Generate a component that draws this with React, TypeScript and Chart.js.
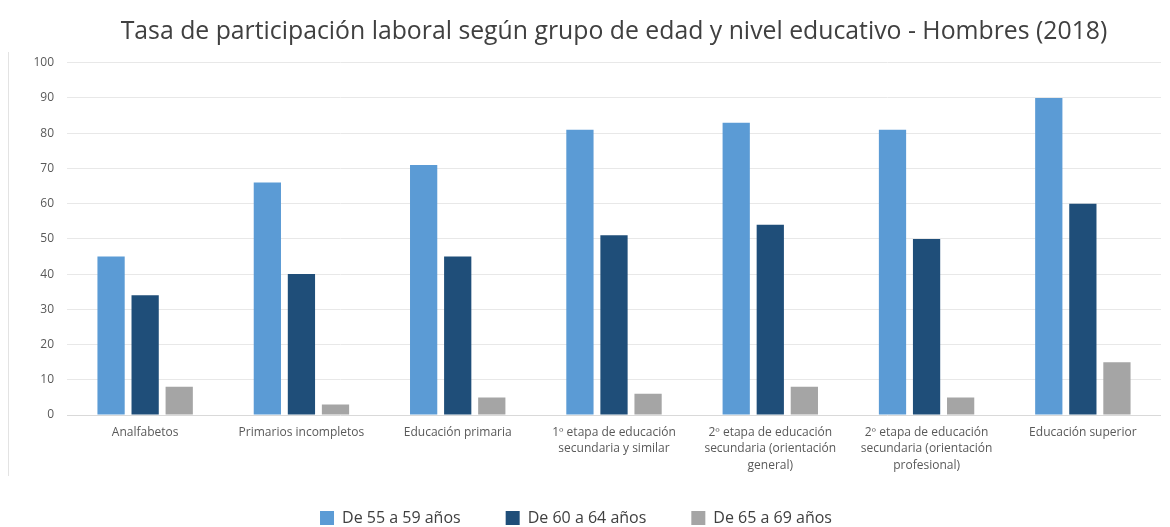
import React, { useEffect, useRef } from "react";
import { Chart, registerables } from "chart.js";

Chart.register(...registerables);

const titleText =
  "Tasa de participación laboral según grupo de edad y nivel educativo - Hombres (2018)";

const categories: (string | string[])[] = [
  "Analfabetos",
  "Primarios incompletos",
  "Educación primaria",
  ["1º etapa de educación", "secundaria y similar"],
  ["2º etapa de educación", "secundaria (orientación", "general)"],
  ["2º etapa de educación", "secundaria (orientación", "profesional)"],
  "Educación superior",
];

const seriesNames = ["De 55 a 59 años", "De 60 a 64 años", "De 65 a 69 años"];

const age55to59 = [45, 66, 71, 81, 83, 81, 90];
const age60to64 = [34, 40, 45, 51, 54, 50, 60];
const age65to69 = [8, 3, 5, 6, 8, 5, 15];

const yTicks = [0, 10, 20, 30, 40, 50, 60, 70, 80, 90, 100];

const colors = ["#5B9BD5", "#1F4E79", "#A5A5A5"];

const FONT = "'Open Sans', 'Noto Sans', sans-serif";

const LEGEND_FONT_SIZE = 16;

const customLegendPlugin = {
  id: "customLegend",
  afterDraw(chart: any) {
    const ctx = chart.ctx;
    ctx.save();
    ctx.font = `${LEGEND_FONT_SIZE}px ${FONT}`;
    ctx.textBaseline = "middle";
    ctx.textAlign = "left";
    const box = 14;
    const gap = 8;
    const itemGap = 45;
    const items = chart.data.datasets.map((d: any) => ({
      label: d.label,
      color: d.backgroundColor,
      w: box + gap + ctx.measureText(d.label).width,
    }));
    const total =
      items.reduce((s: number, it: any) => s + it.w, 0) + itemGap * (items.length - 1);
    const cy = 518;
    let x = chart.width / 2 - 9 - total / 2;
    for (const it of items) {
      ctx.fillStyle = it.color;
      ctx.fillRect(x, cy - box / 2, box, box);
      ctx.fillStyle = "#404040";
      ctx.fillText(it.label, x + box + gap, cy);
      x += it.w + itemGap;
    }
    ctx.restore();
  },
};

const framePlugin = {
  id: "frameLine",
  afterDraw(chart: any) {
    const ctx = chart.ctx;
    ctx.save();
    ctx.strokeStyle = "#e3e3e3";
    ctx.lineWidth = 1;
    ctx.beginPath();
    ctx.moveTo(8.5, 52);
    ctx.lineTo(8.5, 476);
    ctx.stroke();
    ctx.restore();
  },
};

export default function App() {
  const canvasRef = useRef<HTMLCanvasElement | null>(null);

  useEffect(() => {
    document.body.style.margin = "0";
    const canvas = canvasRef.current;
    if (!canvas) return;
    const chart = new Chart(canvas, {
      type: "bar",
      data: {
        labels: categories as any,
        datasets: [
          { label: seriesNames[0], data: age55to59, backgroundColor: colors[0] },
          { label: seriesNames[1], data: age60to64, backgroundColor: colors[1] },
          { label: seriesNames[2], data: age65to69, backgroundColor: colors[2] },
        ].map((d) => ({
          ...d,
          borderWidth: 0,
          categoryPercentage: 0.654,
          barPercentage: 0.8,
        })),
      },
      options: {
        animation: false,
        responsive: true,
        maintainAspectRatio: false,
        layout: { padding: { left: 0, right: 9, top: 0, bottom: 40 } },
        plugins: {
          title: {
            display: true,
            fullSize: false,
            text: titleText,
            color: "#404040",
            font: { family: FONT, size: 24.8, weight: "normal" as any, lineHeight: 1.2 },
            padding: { top: 17, bottom: 16 },
          },
          legend: { display: false },
          tooltip: { enabled: false },
        },
        scales: {
          x: {
            grid: { display: false, drawTicks: false },
            border: { display: false },
            ticks: {
              color: "#595959",
              font: { family: FONT, size: 12, lineHeight: 1.38 },
              padding: 9,
              maxRotation: 0,
              autoSkip: false,
            },
            afterFit(scale: any) {
              scale.height = 72;
            },
          },
          y: {
            min: 0,
            max: 100,
            grid: {
              color: (c: any) => (c.tick && c.tick.value === 0 ? "#d9d9d9" : "#e8e8e8"),
              drawTicks: false,
              lineWidth: 1,
            },
            border: { display: false },
            afterBuildTicks(scale: any) {
              scale.ticks = yTicks.map((v) => ({ value: v }));
            },
            ticks: {
              color: "#595959",
              font: { family: FONT, size: 12 },
              padding: 13,
            },
            afterFit(scale: any) {
              scale.width = 67;
            },
          },
        },
      },
      plugins: [customLegendPlugin, framePlugin],
    });
    return () => chart.destroy();
  }, []);

  return (
    <div style={{ position: "fixed", left: 0, top: 0, width: 1170, height: 527, background: "#fff" }}>
      <canvas ref={canvasRef} />
    </div>
  );
}
